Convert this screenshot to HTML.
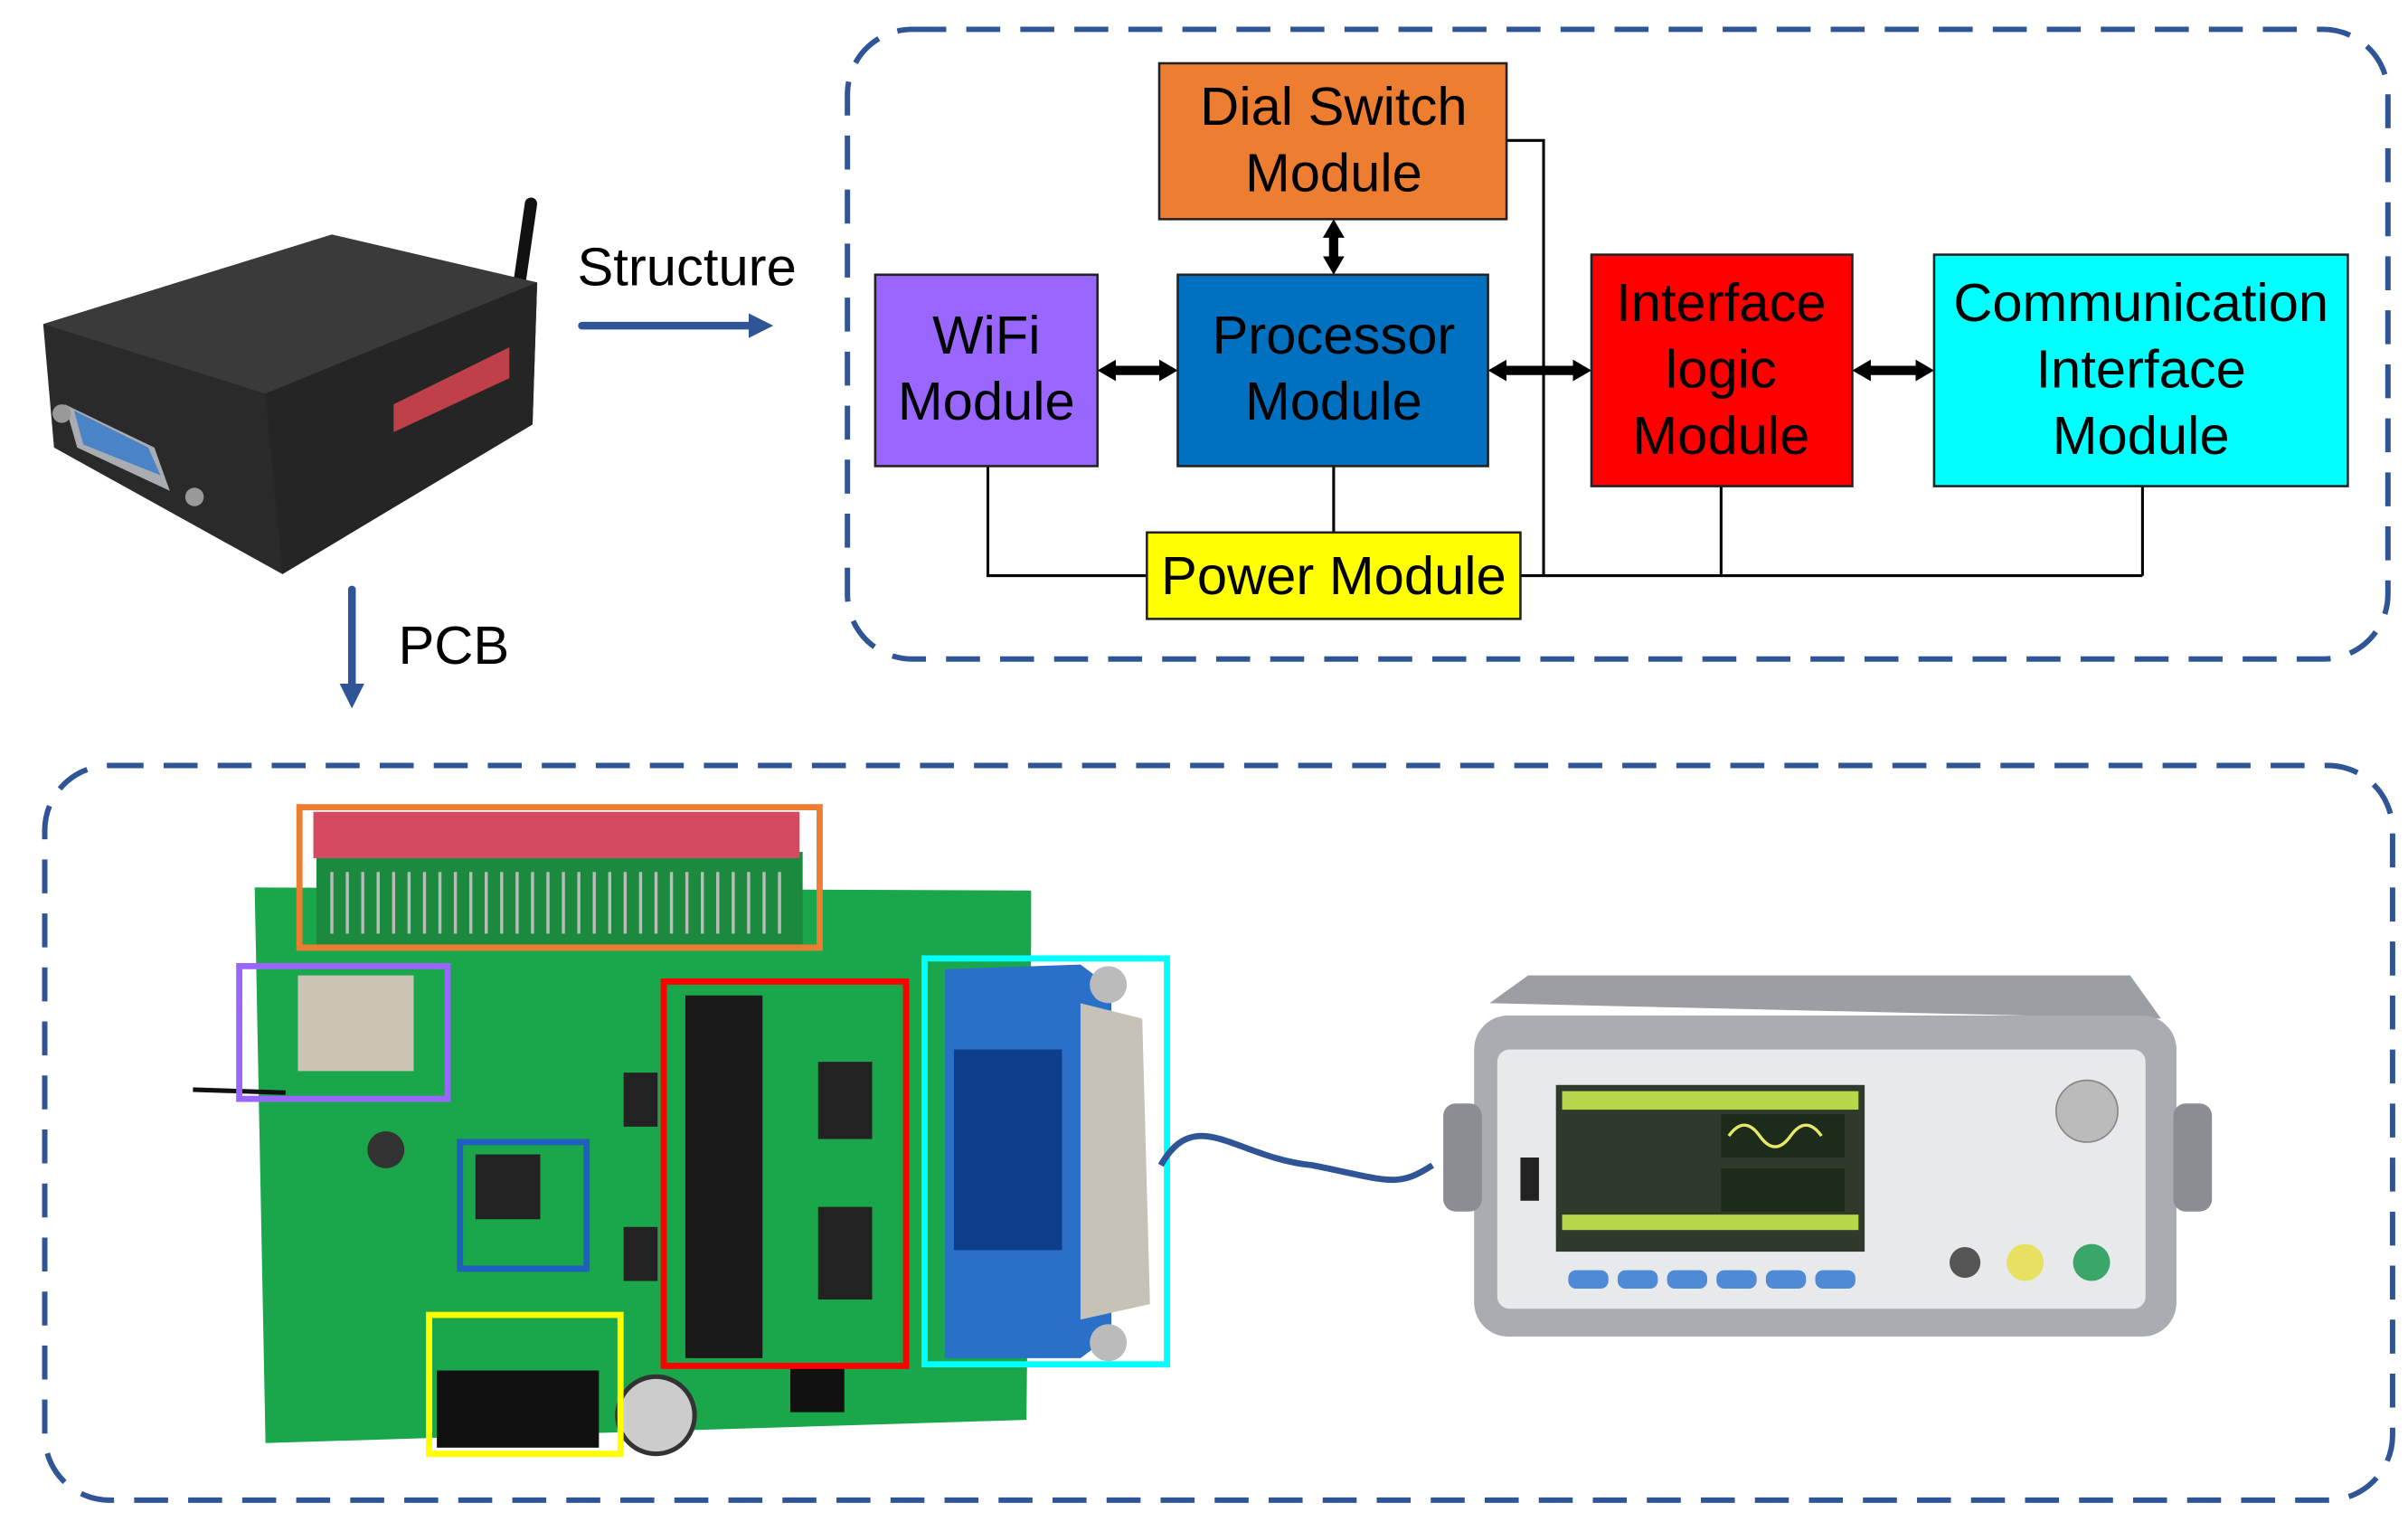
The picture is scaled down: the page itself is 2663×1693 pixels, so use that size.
<!DOCTYPE html>
<html><head><meta charset="utf-8"><style>
html,body{margin:0;padding:0;background:#fff;}
svg{display:block;}
text{font-family:"Liberation Sans",sans-serif;}
</style></head><body>
<svg width="2663" height="1693" viewBox="0 0 1560 992" preserveAspectRatio="none" xmlns="http://www.w3.org/2000/svg">
<defs>
<marker id="ah" markerWidth="12" markerHeight="14" refX="5" refY="7" orient="auto-start-reverse" markerUnits="userSpaceOnUse"><path d="M0,0 L12,7 L0,14 Z" fill="#000"/></marker>
<marker id="bh" markerWidth="16" markerHeight="16" refX="10" refY="8" orient="auto" markerUnits="userSpaceOnUse"><path d="M0,0 L16,8 L0,16 Z" fill="#2F5597"/></marker>
</defs>
<rect x="549" y="19" width="998" height="408" rx="42" fill="none" stroke="#2F5597" stroke-width="3.5" stroke-dasharray="22,13"/>
<rect x="29" y="496" width="1521" height="476" rx="42" fill="none" stroke="#2F5597" stroke-width="3.5" stroke-dasharray="22,13"/>

<g stroke="#000" stroke-width="1.8" fill="none">
<polyline points="976,91 1000,91 1000,373"/>
<polyline points="640,302 640,373 743,373"/>
<line x1="864" y1="302" x2="864" y2="345"/>
<line x1="985" y1="373" x2="1388" y2="373"/>
<line x1="1115" y1="315" x2="1115" y2="373"/>
<line x1="1388" y1="315" x2="1388" y2="373"/>
</g>
<g stroke="#000" stroke-width="6" marker-start="url(#ah)" marker-end="url(#ah)">
<line x1="864" y1="149" x2="864" y2="171"/>
<line x1="718" y1="240" x2="756" y2="240"/>
<line x1="971" y1="240" x2="1024" y2="240"/>
<line x1="1207" y1="240" x2="1246" y2="240"/>
</g>

<g stroke="#222" stroke-width="1.5">
<rect x="751" y="41" width="225" height="101" fill="#ED7D31"/>
<rect x="567" y="178" width="144" height="124" fill="#9966FF"/>
<rect x="763" y="178" width="201" height="124" fill="#0070C0"/>
<rect x="1031" y="165" width="169" height="150" fill="#FF0000"/>
<rect x="1253" y="165" width="268" height="150" fill="#00FFFF"/>
<rect x="743" y="345" width="242" height="56" fill="#FFFF00"/>
</g>
<g font-size="35" fill="#000" text-anchor="middle">
<text x="864" y="81">Dial Switch</text><text x="864" y="124">Module</text>
<text x="639" y="229">WiFi</text><text x="639" y="272">Module</text>
<text x="864" y="229">Processor</text><text x="864" y="272">Module</text>
<text x="1115" y="208">Interface</text><text x="1115" y="251">logic</text><text x="1115" y="294">Module</text>
<text x="1387" y="208">Communication</text><text x="1387" y="251">Interface</text><text x="1387" y="294">Module</text>
<text x="864" y="385">Power Module</text>
<text x="445" y="185">Structure</text>
<text x="294" y="430">PCB</text>
</g>
<line x1="377" y1="211" x2="495" y2="211" stroke="#2F5597" stroke-width="5" stroke-linecap="round" marker-end="url(#bh)"/>
<line x1="228" y1="382" x2="228" y2="453" stroke="#2F5597" stroke-width="5" stroke-linecap="round" marker-end="url(#bh)"/>

<!-- device -->
<g>
<line x1="336" y1="187" x2="344" y2="132" stroke="#111" stroke-width="8" stroke-linecap="round"/>
<polygon points="28,210 215,152 348,183 345,275 183,372 35,290" fill="#2a2a2a"/>
<polygon points="28,210 215,152 348,183 172,255" fill="#3a3a3a"/>
<polygon points="172,255 348,183 345,275 183,372" fill="#252525"/>
<polygon points="255,262 330,225 330,245 255,280" fill="#c0404a"/>
<polygon points="42,262 100,290 110,318 50,290" fill="#a9acb0"/>
<polygon points="48,266 96,290 104,308 54,288" fill="#4a84c6"/>
<circle cx="40" cy="268" r="6" fill="#999"/><circle cx="126" cy="322" r="6" fill="#999"/>
</g>

<!-- PCB -->
<g>
<polygon points="165,575 668,577 668,610 665,920 172,935" fill="#1aa64a"/>
<rect x="205" y="552" width="315" height="60" fill="#1b8a3e"/>
<rect x="203" y="526" width="315" height="30" fill="#d64a61"/>
<g stroke="#bbb" stroke-width="2">
<path d="M215,565 V605 M225,565 V605 M235,565 V605 M245,565 V605 M255,565 V605 M265,565 V605 M275,565 V605 M285,565 V605 M295,565 V605 M305,565 V605 M315,565 V605 M325,565 V605 M335,565 V605 M345,565 V605 M355,565 V605 M365,565 V605 M375,565 V605 M385,565 V605 M395,565 V605 M405,565 V605 M415,565 V605 M425,565 V605 M435,565 V605 M445,565 V605 M455,565 V605 M465,565 V605 M475,565 V605 M485,565 V605 M495,565 V605 M505,565 V605"/>
</g>
<rect x="193" y="632" width="75" height="62" fill="#c9c4b3"/>
<line x1="125" y1="706" x2="185" y2="708" stroke="#111" stroke-width="3"/>
<rect x="308" y="748" width="42" height="42" fill="#222"/>
<rect x="444" y="645" width="50" height="235" fill="#1a1a1a"/>
<rect x="530" y="688" width="35" height="50" fill="#222"/>
<rect x="530" y="782" width="35" height="60" fill="#222"/>
<rect x="404" y="695" width="22" height="35" fill="#222"/>
<rect x="404" y="795" width="22" height="35" fill="#222"/>
<rect x="283" y="888" width="105" height="50" fill="#111"/>
<circle cx="425" cy="917" r="25" fill="#ccc" stroke="#333" stroke-width="3"/>
<circle cx="250" cy="745" r="12" fill="#333"/>
<rect x="512" y="885" width="35" height="30" fill="#111"/>
<polygon points="612,628 700,625 720,640 720,865 700,880 612,880" fill="#2a6fc8"/>
<rect x="618" y="680" width="70" height="130" fill="#0e3e8a"/>
<polygon points="700,650 740,660 745,845 700,855" fill="#c7c2b8"/>
<circle cx="718" cy="638" r="12" fill="#bbb"/><circle cx="718" cy="870" r="12" fill="#bbb"/>
</g>
<g fill="none" stroke-width="4">
<rect x="194" y="523" width="337" height="91" stroke="#ED7D31"/>
<rect x="155" y="626" width="135" height="86" stroke="#9966FF"/>
<rect x="298" y="740" width="82" height="82" stroke="#1f5fbf"/>
<rect x="430" y="636" width="157" height="249" stroke="#FF0000"/>
<rect x="599" y="621" width="157" height="263" stroke="#00FFFF"/>
<rect x="278" y="852" width="124" height="90" stroke="#FFFF00"/>
</g>

<path d="M752,755 C775,715 800,750 850,755 C900,765 905,770 928,755" fill="none" stroke="#2F5597" stroke-width="4"/>

<!-- generator -->
<g>
<polygon points="965,650 990,632 1380,632 1400,660" fill="#9b9ea2"/>
<rect x="955" y="658" width="455" height="208" rx="22" fill="#a9acb0"/>
<rect x="935" y="715" width="25" height="70" rx="8" fill="#8a8d91"/>
<rect x="1408" y="715" width="25" height="70" rx="8" fill="#8a8d91"/>
<rect x="970" y="680" width="420" height="168" rx="8" fill="#e8e9eb"/>
<rect x="1008" y="703" width="200" height="108" fill="#2f3a2c"/>
<rect x="1012" y="707" width="192" height="12" fill="#b6d74a"/>
<rect x="1012" y="787" width="192" height="10" fill="#b6d74a"/>
<rect x="1115" y="722" width="80" height="28" fill="#1d2b1a"/>
<rect x="1115" y="757" width="80" height="28" fill="#1d2b1a"/>
<path d="M1120,736 q10,-14 20,0 t20,0 t20,0" stroke="#e8e86a" fill="none" stroke-width="2"/>
<g fill="#4f8ad6"><rect x="1016" y="823" width="26" height="12" rx="5"/><rect x="1048" y="823" width="26" height="12" rx="5"/><rect x="1080" y="823" width="26" height="12" rx="5"/><rect x="1112" y="823" width="26" height="12" rx="5"/><rect x="1144" y="823" width="26" height="12" rx="5"/><rect x="1176" y="823" width="26" height="12" rx="5"/></g>
<circle cx="1352" cy="720" r="20" fill="#bbb" stroke="#888"/>
<circle cx="1273" cy="818" r="10" fill="#555"/><circle cx="1312" cy="818" r="12" fill="#e8e060"/><circle cx="1355" cy="818" r="12" fill="#3aa66a"/>
<rect x="985" y="750" width="12" height="28" fill="#222"/>
</g>
</svg>
</body></html>
